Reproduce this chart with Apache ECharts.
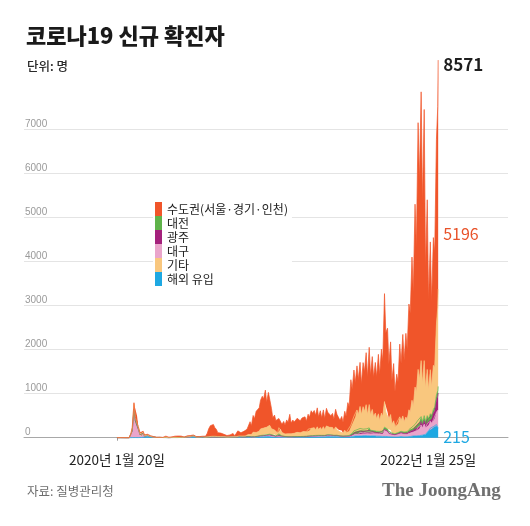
<!DOCTYPE html>
<html><head><meta charset="utf-8">
<script src="https://cdn.jsdelivr.net/npm/echarts@6/dist/echarts.min.js"></script>
<style>html,body{margin:0;padding:0;background:#fff}#c{width:530px;height:526px}</style>
</head><body><div id="c"></div>
<script>
// x: days since 2020-01-20; samples on Mondays and Fridays of each week, then 2022-01-24 and 2022-01-25
const startDate = '2020-01-20';
const tickDays = [0, 736];
const tickLabels = ['2020년 1월 20일', '2022년 1월 25일'];
const legendNames = ['수도권(서울·경기·인천)', '대전', '광주', '대구', '기타', '해외 유입'];

const capital = [
0,0, 0,3, 1,1, 0,0, 1,5, 10,18, 15,20, 10,25, 15,20, 20,30,
20,35, 18,10, 8,5, 2,1, 3,2, 3,9, 29,22, 10,15, 14,52, 30,43,
32,49, 27,39, 7,23, 20,30, 20,20, 15,16, 10,8, 8,10, 10,20, 22,85,
175,240, 220,260, 200,160, 90,120, 80,95, 55,80, 35,40, 45,35, 75,30, 55,100,
80,80, 60,100, 60,120, 150,260, 200,380, 330,480, 460,530, 650,720, 660,830, 570,760,
740,460, 290,340, 260,240, 210,270, 185,255, 205,305, 255,400, 245,290, 255,280, 320,350,
270,310, 270,310, 240,340, 300,400, 370,390, 330,430, 290,380, 270,380, 250,400, 340,300,
290,320, 250,400, 350,360, 260,320, 250,430, 370,620, 560,1030, 790,1050, 780,1000, 800,1000,
700,1000, 900,1180, 850,1300, 900,1200, 900,1150, 950,1350, 1050,1450, 1250,2450, 1800,1900, 1250,1650,
1000,1300, 800,1100, 950,1650, 1300,1850, 1400,1900, 1600,2400, 2250,3250, 2600,4150, 3300,5600, 4500,6100,
4100,5700, 2750,3850, 2050,2900, 1950,2900, 2600,4200,
4550, 5196];

const daejeon = [
0,0, 0,0, 0,0, 0,0, 0,0, 1,2, 2,3, 1,1, 0,1, 0,0,
0,1, 0,0, 0,0, 0,0, 0,0, 0,0, 0,0, 0,0, 0,1, 0,1,
0,0, 2,3, 2,4, 3,4, 3,2, 1,1, 1,1, 0,0, 0,0, 0,0,
0,1, 1,2, 1,1, 1,2, 2,2, 1,1, 0,1, 1,1, 0,0, 0,1,
1,1, 1,1, 1,2, 2,2, 2,3, 3,5, 5,6, 8,9, 10,12, 10,12,
15,10, 10,10, 5,5, 40,15, 5,4, 3,3, 2,3, 2,3, 3,3, 3,3,
3,4, 5,5, 8,10, 8,10, 8,10, 10,10, 8,8, 6,8, 6,10, 10,10,
8,10, 5,8, 6,6, 5,6, 5,6, 5,8, 15,30, 40,50, 50,55, 60,60,
50,55, 40,45, 40,60, 50,45, 40,40, 40,45, 40,40, 40,50, 50,40, 30,40,
25,30, 20,30, 25,30, 30,30, 30,35, 30,40, 40,55, 50,70, 70,90, 90,110,
80,110, 70,90, 60,70, 60,80, 80,110,
120, 150];

const gwangju = [
0,0, 0,0, 0,0, 0,0, 0,0, 2,1, 1,1, 0,0, 0,0, 0,1,
1,1, 0,0, 0,0, 0,0, 0,0, 0,0, 0,0, 0,0, 0,0, 0,0,
0,0, 0,0, 0,0, 4,12, 8,5, 2,1, 1,0, 0,0, 0,0, 0,0,
2,8, 6,10, 6,3, 2,2, 1,1, 1,1, 0,0, 0,0, 0,0, 0,0,
1,1, 1,1, 2,3, 3,4, 3,5, 4,3, 4,5, 6,9, 8,12, 10,15,
15,20, 25,30, 8,5, 20,30, 10,5, 5,3, 2,3, 2,2, 2,3, 3,4,
3,3, 3,4, 3,5, 5,5, 6,8, 8,12, 10,10, 8,10, 8,10, 8,10,
8,10, 5,6, 5,5, 4,5, 3,5, 4,6, 5,10, 10,15, 15,15, 20,25,
30,30, 25,30, 20,30, 20,25, 20,20, 20,25, 20,25, 20,25, 25,25, 20,25,
15,20, 15,15, 15,20, 20,20, 20,25, 25,40, 40,45, 40,60, 55,70, 60,80,
60,80, 70,90, 80,100, 110,150, 180,280,
330, 380];

const daegu = [
0,0, 0,0, 0,0, 0,0, 0,84, 150,640, 380,390, 190,61, 35,97, 20,15,
17,5, 8,1, 3,4, 1,0, 1,0, 0,0, 1,1, 0,1, 0,0, 0,0,
0,0, 0,0, 0,0, 0,0, 1,0, 0,0, 0,0, 0,0, 0,0, 0,1,
1,3, 2,2, 2,2, 2,2, 1,2, 1,1, 1,1, 1,1, 1,1, 1,2,
2,1, 1,2, 1,1, 2,2, 2,3, 3,4, 6,8, 10,12, 12,20, 20,25,
25,15, 10,12, 10,10, 15,15, 12,10, 8,8, 6,8, 5,6, 5,5, 5,6,
5,6, 6,10, 8,12, 10,15, 12,15, 12,20, 15,20, 15,25, 15,30, 25,25,
25,25, 20,25, 15,15, 10,10, 8,10, 8,10, 12,20, 20,40, 40,50, 40,60,
50,60, 50,70, 60,80, 60,70, 60,60, 50,60, 50,70, 60,130, 100,100, 60,80,
50,50, 40,50, 60,70, 70,70, 60,60, 60,80, 80,110, 90,130, 120,180, 160,220,
160,230, 150,200, 130,160, 130,160, 180,280,
350, 420];

const others = [
0,0, 0,0, 1,0, 0,0, 0,11, 66,130, 75,100, 45,18, 19,15, 8,6,
5,4, 3,2, 2,3, 1,1, 0,1, 1,1, 2,2, 1,2, 1,2, 1,2,
2,3, 3,2, 2,3, 5,7, 4,3, 2,2, 2,2, 2,2, 4,8, 3,7,
10,15, 15,20, 15,12, 10,15, 10,11, 8,15, 5,10, 5,5, 6,5, 8,12,
15,15, 20,25, 20,45, 46,75, 50,90, 75,90, 90,110, 150,165, 160,180, 170,190,
200,140, 100,100, 90,70, 140,125, 80,85, 55,70, 65,100, 65,85, 75,85, 95,105,
85,105, 110,130, 100,145, 120,160, 140,170, 125,180, 130,170, 130,180, 130,190, 170,165,
145,160, 115,175, 125,125, 90,115, 65,120, 75,120, 100,200, 210,330, 330,450, 360,500,
350,510, 430,550, 360,530, 350,450, 310,400, 280,380, 240,380, 330,580, 380,390, 290,350,
190,260, 160,225, 200,330, 240,350, 230,320, 270,450, 390,610, 490,850, 740,1150, 960,1270,
860,1250, 750,1050, 650,1000, 650,1000, 900,1600,
1900, 2210];

const imported = [
1,1, 1,1, 0,0, 0,0, 0,0, 2,3, 3,4, 2,5, 5,14, 16,39,
35,40, 18,14, 12,10, 5,4, 6,6, 4,2, 3,2, 2,2, 4,3, 4,5,
4,4, 5,5, 6,9, 10,10, 12,15, 42,19, 12,30, 15,24, 19,15, 9,10,
9,6, 7,6, 8,8, 10,15, 10,12, 12,12, 8,10, 11,10, 14,10, 12,40,
20,15, 15,16, 16,20, 20,20, 14,23, 13,17, 19,20, 26,25, 28,26, 27,27,
25,19, 16,21, 16,16, 12,14, 13,11, 13,14, 13,17, 13,15, 15,17, 15,15,
16,19, 16,15, 15,21, 20,22, 21,25, 22,25, 21,23, 24,28, 24,27, 26,26,
24,27, 25,31, 30,29, 25,26, 21,28, 24,32, 19,26, 30,51, 37,60, 36,65,
39,49, 47,55, 43,52, 38,51, 42,38, 35,32, 33,43, 29,35, 28,31, 23,30,
17,23, 15,21, 16,24, 26,24, 18,28, 21,24, 27,30, 39,40, 40,60, 47,70,
58,80, 75,120, 159,214, 197,252, 254,297,
263, 215];

const colors = {
  capital: '#f0552a', daejeon: '#5fb34a', gwangju: '#a4217c',
  daegu: '#eaa5cb', others: '#f9c77e', imported: '#1ea8e2'
};

const sampleDays = [];
for (let w = 0; w < 105; w++) { sampleDays.push(7 * w, 7 * w + 4); }
sampleDays.push(735, 736);

[capital, daejeon, gwangju, daegu, others, imported].forEach((a, i) => {
  if (a.length !== sampleDays.length) throw new Error('length mismatch ' + i + ': ' + a.length + ' vs ' + sampleDays.length);
});

const FONT = "'Noto Sans CJK KR', 'Noto Sans', sans-serif";
const last = sampleDays.length - 1;
const total = capital[last] + daejeon[last] + gwangju[last] + daegu[last] + others[last] + imported[last];

function mk(name, arr, color, extra) {
  return Object.assign({
    name: name, type: 'line', stack: 'all', clip: false,
    showSymbol: false, symbol: 'none', color: color,
    lineStyle: { width: 0.7, color: color },
    areaStyle: { color: color, opacity: 1 },
    emphasis: { disabled: true },
    // column 0 = count (stacked), column 1 = day offset
    dimensions: ['count', 'day'],
    encode: { x: 1, y: 0 },
    data: arr.map((v, i) => [v, sampleDays[i]])
  }, extra || {});
}

const chart = echarts.init(document.getElementById('c'), null, { renderer: 'canvas' });
chart.setOption({
  animation: false,
  backgroundColor: '#fff',
  textStyle: { fontFamily: FONT },
  grid: { left: 24, right: 22, top: 129.3, bottom: 88.3 },
  legend: {
    data: legendNames, orient: 'vertical', left: 153, top: 202,
    itemWidth: 7, itemHeight: 14, itemGap: 0, icon: 'rect',
    padding: [0, 4, 0, 2], backgroundColor: '#fff',
    selectedMode: false,
    textStyle: { fontSize: 12, color: '#222', lineHeight: 14, fontFamily: FONT }
  },
  xAxis: {
    type: 'value', min: -213, max: 896,
    axisLine: { show: true, lineStyle: { color: '#a8a8a8', width: 1 } },
    axisTick: { show: true, customValues: [0], length: 3, lineStyle: { color: '#999' } },
    splitLine: { show: false },
    axisLabel: {
      customValues: tickDays, margin: 15, fontSize: 13.5, color: '#222', fontFamily: FONT,
      formatter: function (v) {
        const i = tickDays.indexOf(v);
        if (i < 0) return '';
        if (i === tickDays.length - 1) return '{e|' + tickLabels[i] + '}';
        return tickLabels[i];
      },
      rich: { e: { padding: [0, 20, 0, 0], fontSize: 13.5, color: '#222', fontFamily: FONT } }
    }
  },
  yAxis: {
    type: 'value', min: 0, max: 7000, interval: 1000,
    axisLine: { show: false }, axisTick: { show: false },
    splitLine: { lineStyle: { color: '#e4e4e4', width: 1 } },
    axisLabel: { inside: true, margin: 1, verticalAlign: 'bottom', fontSize: 10, color: '#9a9a9a',
      formatter: v => String(v),
      fontFamily: "'Liberation Sans', Arial, sans-serif" }
  },
  series: [
    mk(legendNames[5], imported, colors.imported, {
      endLabel: { show: true, formatter: String(imported[last]), color: colors.imported, fontSize: 16,
        distance: 5, offset: [0, 9], fontFamily: FONT }
    }),
    mk(legendNames[3], daegu, colors.daegu),
    mk(legendNames[2], gwangju, colors.gwangju),
    mk(legendNames[1], daejeon, colors.daejeon),
    mk(legendNames[4], others, colors.others, {
      endLabel: { show: true, formatter: String(capital[last]), color: '#e8532a', fontSize: 16,
        distance: 5, offset: [0, -55], fontFamily: FONT }
    }),
    mk(legendNames[0], capital, colors.capital, {
      endLabel: { show: true, formatter: String(total), color: '#1e1e1e', fontSize: 17, fontWeight: 'bold',
        distance: 5, offset: [0, 4], fontFamily: FONT }
    })
  ],
  graphic: [
    { type: 'text', left: 26, top: 24.5, style: { text: '코로나19 신규 확진자', font: "900 22px " + FONT, fill: '#1a1a1a' } },
    { type: 'text', left: 27, top: 60, style: { text: '단위: 명', font: "500 12.5px " + FONT, fill: '#2a2a2a' } },
    { type: 'text', left: 27, top: 484.5, style: { text: '자료: 질병관리청', font: "12.5px " + FONT, fill: '#6e6e6e' } },
    { type: 'text', left: 382, top: 482, style: { text: 'The JoongAng', font: "bold 19px 'Liberation Serif', 'DejaVu Serif', serif", fill: '#6f6f6f' } }
  ]
});
</script></body></html>
